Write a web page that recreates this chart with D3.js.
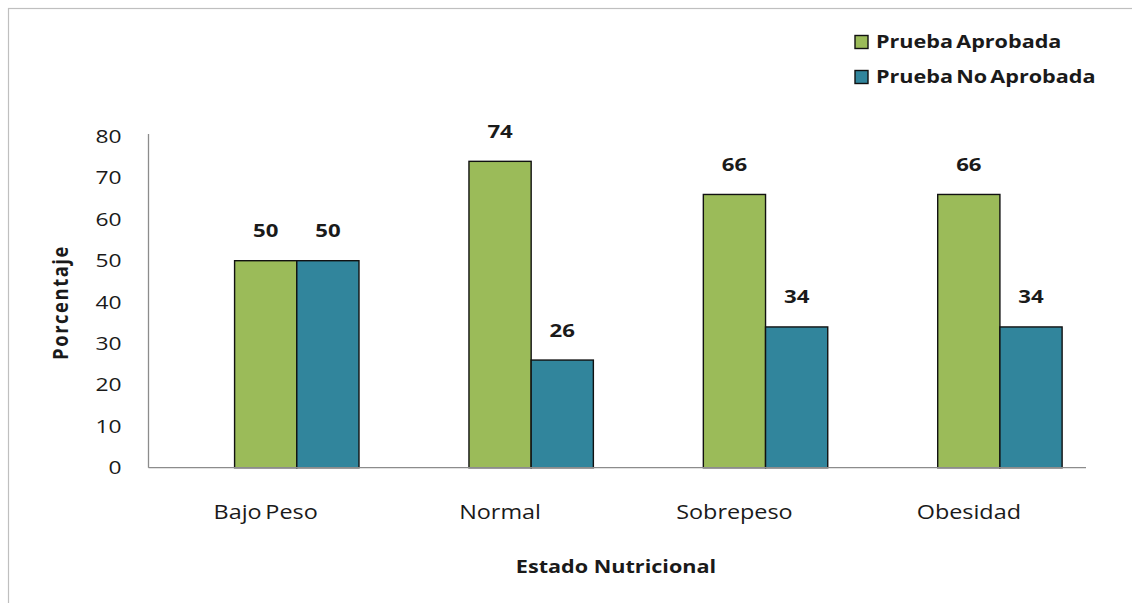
<!DOCTYPE html>
<html>
<head>
<meta charset="utf-8">
<script src="https://cdn.jsdelivr.net/npm/d3@7"></script>
<style>
  html, body { margin: 0; padding: 0; background: #fff; }
  svg { display: block; font-family: "Open Sans", sans-serif; }
</style>
</head>
<body>
<svg id="chart" width="1132" height="603"></svg>
<script>
// Estado nutricional vs. resultado de la prueba (%)
const categories = ["Bajo Peso", "Normal", "Sobrepeso", "Obesidad"];
const seriesNames = ["Prueba Aprobada", "Prueba No Aprobada"];
const aprobada = [50, 74, 66, 66];
const noAprobada = [50, 26, 34, 34];
const yTicks = [0, 10, 20, 30, 40, 50, 60, 70, 80];
const colors = ["#9BBB59", "#31859C"];

const textColor = "#1a1a1a";
const FONT = "'Open Sans', sans-serif";
const SX = 1.2; // horizontal widening of the lettering

const svg = d3.select("#chart");

// outer frame
svg.append("rect")
  .attr("x", 8.5).attr("y", 8.5)
  .attr("width", 1140).attr("height", 620)
  .attr("fill", "none").attr("stroke", "#bfbfbf").attr("stroke-width", 1.2);

const plot = { left: 148.5, right: 1086, top: 134, bottom: 467.7 };

const x0 = d3.scaleBand().domain(categories).range([plot.left, plot.right]).padding(0);
// three slots per category; the first slot stays empty, bars go in slots 1 and 2
const slots = ["", ...seriesNames];
const x1 = d3.scaleBand().domain(slots).range([0, x0.bandwidth()])
  .paddingInner(0).paddingOuter(0.384);
const y = d3.scaleLinear().domain([0, 80]).range([plot.bottom, 136.5]);

// y axis line
svg.append("line")
  .attr("x1", plot.left).attr("x2", plot.left)
  .attr("y1", plot.top).attr("y2", plot.bottom)
  .attr("stroke", "#8c8c8c").attr("stroke-width", 1.3);

// y tick labels
const yAxis = d3.axisLeft(y).tickValues(yTicks).tickSize(0).tickPadding(0);
const gy = svg.append("g").attr("transform", `translate(${plot.left - 27},0)`).call(yAxis);
gy.select(".domain").remove();
gy.selectAll("text")
  .attr("font-family", FONT)
  .attr("font-size", 19).attr("fill", textColor)
  .attr("transform", `scale(${SX},1)`);

// bars
const rows = categories.map((c, i) => ({ cat: c, values: [aprobada[i], noAprobada[i]] }));
const groups = svg.append("g").selectAll("g").data(rows).join("g")
  .attr("transform", d => `translate(${x0(d.cat)},0)`);

groups.selectAll("rect").data(d => d.values.map((v, k) => ({ v, k })))
  .join("rect")
  .attr("x", d => x1(seriesNames[d.k]))
  .attr("y", d => y(d.v))
  .attr("width", x1.bandwidth())
  .attr("height", d => y(0) - y(d.v))
  .attr("fill", d => colors[d.k])
  .attr("stroke", "#111").attr("stroke-width", 1.4);

// value labels
groups.selectAll("text.val").data(d => d.values.map((v, k) => ({ v, k })))
  .join("text").attr("class", "val")
  .attr("transform", d => `translate(${x1(seriesNames[d.k]) + x1.bandwidth() / 2},${y(d.v) - 23.5}) scale(${SX},1)`)
  .attr("text-anchor", "middle")
  .attr("font-family", FONT)
  .attr("font-weight", "bold").attr("font-size", 18.5).attr("fill", textColor)
  .text(d => d.v);

// x baseline
svg.append("line")
  .attr("x1", plot.left).attr("x2", plot.right)
  .attr("y1", plot.bottom).attr("y2", plot.bottom)
  .attr("stroke", "#8c8c8c").attr("stroke-width", 1.3);

// category labels
const xAxis = d3.axisBottom(x0).tickSize(0).tickPadding(0);
const gx = svg.append("g").attr("transform", `translate(0,${plot.bottom + 51.5})`).call(xAxis);
gx.select(".domain").remove();
gx.selectAll("text")
  .attr("font-family", FONT)
  .attr("font-size", 19.5).attr("fill", textColor).attr("dy", "0").attr("y", 0)
  .attr("word-spacing", -2)
  .attr("transform", `scale(${SX},1)`);

// axis titles
svg.append("text")
  .attr("transform", `translate(616,573) scale(${SX},1)`)
  .attr("text-anchor", "middle")
  .attr("font-family", FONT)
  .attr("font-weight", "bold").attr("font-size", 18).attr("fill", textColor)
  .text("Estado Nutricional");

svg.append("text")
  .attr("transform", `translate(68,302.5) scale(${SX},1) rotate(-90)`)
  .attr("text-anchor", "middle")
  .attr("font-family", FONT)
  .attr("font-weight", "bold").attr("font-size", 18.5).attr("fill", textColor)
  .attr("letter-spacing", 1.5)
  .text("Porcentaje");

// legend
const legend = svg.append("g").selectAll("g").data(seriesNames).join("g")
  .attr("transform", (d, i) => `translate(855,${42 + i * 35})`);
legend.append("rect")
  .attr("x", 0).attr("y", -6.5).attr("width", 13).attr("height", 13)
  .attr("fill", (d, i) => colors[i]).attr("stroke", "#111").attr("stroke-width", 1.4);
legend.append("text")
  .attr("transform", `translate(21,0) scale(${SX},1)`)
  .attr("dy", "0.35em")
  .attr("font-family", FONT)
  .attr("font-weight", "bold").attr("font-size", 18).attr("fill", textColor)
  .attr("word-spacing", -2)
  .text(d => d);
</script>
</body>
</html>
